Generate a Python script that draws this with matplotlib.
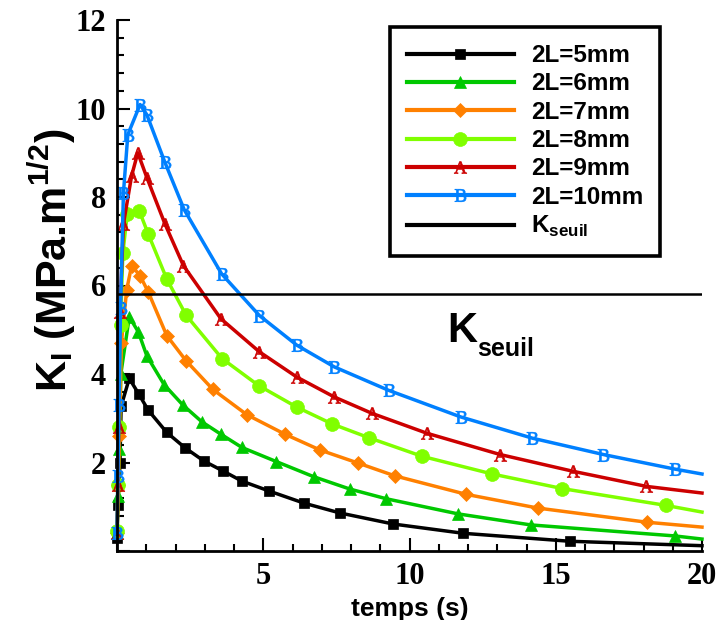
import numpy as np
import matplotlib
matplotlib.use("Agg")
import matplotlib.pyplot as plt

plt.rcParams['mathtext.fontset'] = 'custom'
plt.rcParams['mathtext.rm'] = 'Liberation Serif'
plt.rcParams['mathtext.bf'] = 'Liberation Sans:bold'
plt.rcParams['mathtext.sf'] = 'Liberation Sans'

# data (temps in s, K_I in MPa.m^1/2)
t_5 = [0.0, 0.03, 0.10, 0.14, 0.42, 0.75, 1.07, 1.70, 2.33, 2.98, 3.62, 4.27, 5.18, 6.40, 7.62, 9.44, 11.84, 15.48, 20.0]
k_5 = [0.29, 1.04, 1.98, 3.27, 3.90, 3.54, 3.18, 2.68, 2.33, 2.03, 1.81, 1.58, 1.36, 1.08, 0.86, 0.61, 0.40, 0.22, 0.12]

t_6 = [0.0, 0.04, 0.08, 0.13, 0.42, 0.73, 1.02, 1.61, 2.25, 2.90, 3.55, 4.27, 5.45, 6.72, 7.96, 9.21, 11.65, 14.14, 19.08, 20.0]
k_6 = [0.40, 1.25, 2.30, 4.00, 5.29, 4.95, 4.41, 3.76, 3.30, 2.92, 2.64, 2.34, 2.02, 1.68, 1.40, 1.18, 0.84, 0.59, 0.34, 0.27]

t_7 = [0.0, 0.05, 0.08, 0.15, 0.33, 0.50, 0.79, 1.07, 1.70, 2.36, 3.28, 4.44, 5.74, 6.95, 8.23, 9.49, 11.94, 14.39, 18.12, 20.0]
k_7 = [0.40, 1.50, 2.60, 4.70, 5.90, 6.45, 6.22, 5.85, 4.87, 4.30, 3.65, 3.08, 2.64, 2.28, 1.99, 1.70, 1.28, 0.97, 0.65, 0.54]

t_8 = [0.0, 0.03, 0.06, 0.12, 0.20, 0.35, 0.76, 1.07, 1.70, 2.36, 3.59, 4.84, 6.15, 7.36, 8.61, 10.43, 12.83, 15.23, 18.77, 20.0]
k_8 = [0.45, 1.50, 2.80, 5.10, 6.73, 7.61, 7.69, 7.16, 6.15, 5.33, 4.35, 3.74, 3.25, 2.87, 2.56, 2.14, 1.74, 1.41, 1.03, 0.88]

t_9 = [0.0, 0.03, 0.06, 0.10, 0.22, 0.50, 0.71, 1.02, 1.64, 2.27, 3.55, 4.87, 6.15, 7.43, 8.72, 10.60, 13.10, 15.60, 18.10, 20.0]
k_9 = [0.40, 1.50, 2.80, 5.40, 7.39, 8.48, 9.00, 8.44, 7.39, 6.45, 5.25, 4.50, 3.93, 3.48, 3.11, 2.66, 2.18, 1.80, 1.46, 1.31]

t_10 = [0.0, 0.03, 0.07, 0.12, 0.22, 0.37, 0.79, 1.02, 1.64, 2.30, 3.58, 4.87, 6.15, 7.43, 9.29, 11.75, 14.20, 16.63, 19.08, 20.0]
k_10 = [0.40, 1.70, 3.30, 5.50, 8.09, 9.41, 10.09, 9.86, 8.78, 7.71, 6.26, 5.32, 4.65, 4.16, 3.63, 3.03, 2.55, 2.18, 1.85, 1.74]

k_seuil = 5.8
labels = ['2L=5mm', '2L=6mm', '2L=7mm', '2L=8mm', '2L=9mm', '2L=10mm']

series = [
    (t_5, k_5, 'black', 's', 7.5),
    (t_6, k_6, '#00c800', '^', 9),
    (t_7, k_7, '#ff8000', 'D', 7.5),
    (t_8, k_8, '#80ff00', 'o', 10),
    (t_9, k_9, '#cc0000', r'$\mathrm{A}$', 9),
    (t_10, k_10, '#0080ff', r'$\mathrm{B}$', 9),
]

fig = plt.figure(figsize=(7.17, 6.2), dpi=100)
ax = fig.add_axes([117/717, 1-551/620, 585/717, 531/620])

handles = []
for (t, k, c, m, ms), lab in zip(series, labels):
    n = len(t)
    h, = ax.plot(t, k, color=c, lw=2.5, marker=m, ms=ms, mec=c, mfc=c,
                 mew=0.5, markevery=list(range(n - 1)), clip_on=False, label=lab)
    handles.append(h)

hs = ax.axhline(k_seuil, color='black', lw=1.8, label=r'K$_{\mathbf{seuil}}$')
handles.append(hs)

ax.text(11.3, 4.73, 'K', fontsize=30, fontweight='bold',
        family='Liberation Sans', ha='left', va='baseline')
ax.text(12.3, 4.41, 'seuil', fontsize=18, fontweight='bold',
        family='Liberation Sans', ha='left', va='baseline')

ax.set_xlim(0, 20)
ax.set_ylim(0, 12)
ax.set_xticks([0, 5, 10, 15, 20], ['', '5', '10', '15', '20'])
ax.set_yticks([0, 2, 4, 6, 8, 10, 12], ['', '2', '4', '6', '8', '10', '12'])
ax.set_xticks(np.arange(0, 21, 1), minor=True)
ax.set_yticks(np.arange(0, 12.01, 0.4), minor=True)
ax.tick_params(which='both', direction='in', width=1.5)
ax.tick_params(which='major', length=9.5, pad=8)
ax.tick_params(which='minor', length=5)
for lab in ax.get_xticklabels() + ax.get_yticklabels():
    lab.set_family('Liberation Serif')
    lab.set_fontweight('bold')
    lab.set_fontsize(22)

for s in ['top', 'right']:
    ax.spines[s].set_visible(False)
for s in ['left', 'bottom']:
    ax.spines[s].set_linewidth(2)

ax.set_xlabel('temps (s)', fontsize=19, fontweight='bold', family='Liberation Sans', labelpad=4)
fig.text(52/717, 1-260/620, r'K$_{\mathbf{I}}$ (MPa.m$^{\mathbf{1/2}}$)', rotation=90,
         fontsize=31, fontweight='bold', family='Liberation Sans', ha='center', va='center')

leg = ax.legend(handles=handles, loc='upper right', bbox_to_anchor=(660/717, 1-27/620),
                bbox_transform=fig.transFigure, frameon=True, fancybox=False,
                handlelength=4.4, handletextpad=0.7, labelspacing=0.22, borderpad=0.7,
                borderaxespad=0, numpoints=1, framealpha=1,
                prop={'family': 'Liberation Sans', 'weight': 'bold', 'size': 17.5})
leg.get_frame().set_edgecolor('black')
leg.get_frame().set_linewidth(2.6)
for ln in leg.get_lines():
    ln.set_linewidth(3)

fig.savefig('out.png', dpi=100)
